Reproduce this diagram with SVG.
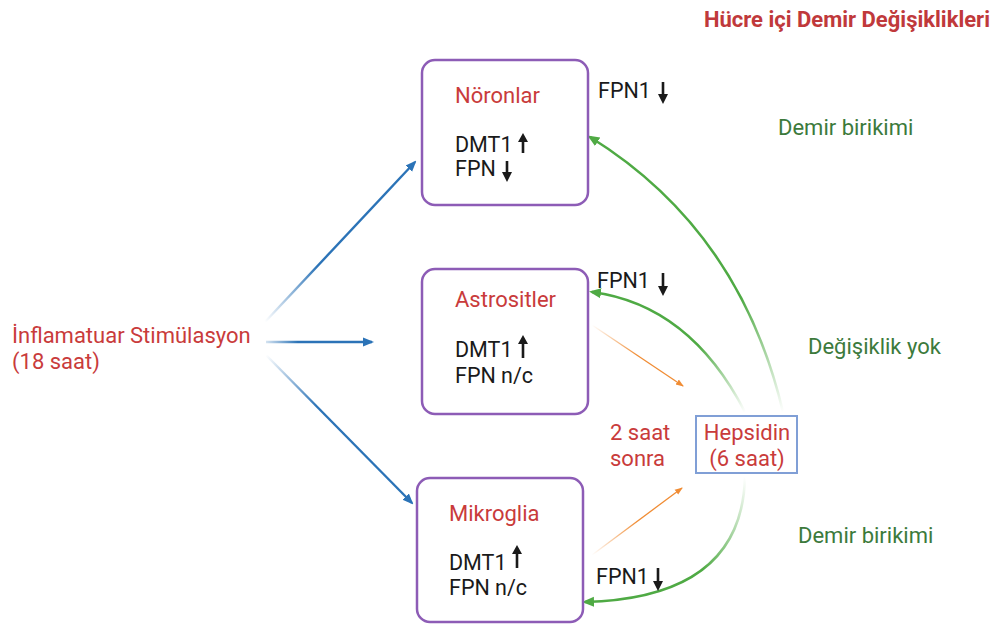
<svg xmlns="http://www.w3.org/2000/svg" width="995" height="624" viewBox="0 0 995 624">
<style>
text{font-family:Roboto,"Liberation Sans",sans-serif;}
.red{fill:#c93b3b;font-size:22px;}
.blk{fill:#1a1a1a;font-size:21.5px;}
.grn{fill:#3c7a3c;font-size:22px;}
.box{fill:#fff;stroke:#8d5cb6;stroke-width:2.5;}
.ar{fill:#1a1a1a;}
</style>
<defs>
<marker id="mb" markerWidth="11" markerHeight="11" refX="9" refY="5.5" orient="auto" markerUnits="userSpaceOnUse"><path d="M0,1 L11,5.5 L0,10 Z" fill="#2b73b7"/></marker>
<marker id="mg" markerWidth="12" markerHeight="12" refX="9" refY="6" orient="auto" markerUnits="userSpaceOnUse"><path d="M0,1 L12,6 L0,11 Z" fill="#4faa44"/></marker>
<marker id="mo" markerWidth="8" markerHeight="8" refX="7" refY="4" orient="auto" markerUnits="userSpaceOnUse"><path d="M0,1 L8,4 L0,7 Z" fill="#f08c34"/></marker>
<linearGradient id="gb1" gradientUnits="userSpaceOnUse" x1="265" y1="322" x2="415" y2="162"><stop offset="0" stop-color="#2b73b7" stop-opacity="0"/><stop offset="0.35" stop-color="#2b73b7"/></linearGradient>
<linearGradient id="gb2" gradientUnits="userSpaceOnUse" x1="266" y1="342" x2="372" y2="342"><stop offset="0" stop-color="#2b73b7" stop-opacity="0.2"/><stop offset="0.3" stop-color="#2b73b7"/></linearGradient>
<linearGradient id="gb3" gradientUnits="userSpaceOnUse" x1="266" y1="355" x2="412" y2="503"><stop offset="0" stop-color="#2b73b7" stop-opacity="0"/><stop offset="0.35" stop-color="#2b73b7"/></linearGradient>
<linearGradient id="gg1" gradientUnits="userSpaceOnUse" x1="783" y1="412" x2="590" y2="137"><stop offset="0" stop-color="#4faa44" stop-opacity="0"/><stop offset="0.35" stop-color="#4faa44"/></linearGradient>
<linearGradient id="gg2" gradientUnits="userSpaceOnUse" x1="745" y1="412" x2="592" y2="292"><stop offset="0" stop-color="#4faa44" stop-opacity="0"/><stop offset="0.4" stop-color="#4faa44"/></linearGradient>
<linearGradient id="gg3" gradientUnits="userSpaceOnUse" x1="745" y1="477" x2="585" y2="602"><stop offset="0" stop-color="#4faa44" stop-opacity="0"/><stop offset="0.45" stop-color="#4faa44"/></linearGradient>
<linearGradient id="go1" gradientUnits="userSpaceOnUse" x1="592" y1="325" x2="683" y2="386"><stop offset="0" stop-color="#f08c34" stop-opacity="0"/><stop offset="0.5" stop-color="#f08c34"/></linearGradient>
<linearGradient id="go2" gradientUnits="userSpaceOnUse" x1="592" y1="555" x2="682" y2="488"><stop offset="0" stop-color="#f08c34" stop-opacity="0"/><stop offset="0.5" stop-color="#f08c34"/></linearGradient>
</defs>
<rect width="995" height="624" fill="#fff"/>

<text x="990" y="27" text-anchor="end" style="font-size:22px;font-weight:bold;fill:#c0393b">Hücre içi Demir Değişiklikleri</text>

<g id="connectors" fill="none">
<path d="M265,322 L415,162" stroke="url(#gb1)" stroke-width="2.4" marker-end="url(#mb)"/>
<path d="M266,342 L372,342" stroke="url(#gb2)" stroke-width="2.4" marker-end="url(#mb)"/>
<path d="M266,355 L412,503" stroke="url(#gb3)" stroke-width="2.4" marker-end="url(#mb)"/>
<path d="M783,412 Q740,230 590,137" stroke="url(#gg1)" stroke-width="2.6" marker-end="url(#mg)"/>
<path d="M745,412 Q690,305 592,292" stroke="url(#gg2)" stroke-width="2.6" marker-end="url(#mg)"/>
<path d="M745,477 Q742,598 585,602" stroke="url(#gg3)" stroke-width="2.6" marker-end="url(#mg)"/>
<path d="M592,325 L683,386" stroke="url(#go1)" stroke-width="1.3" marker-end="url(#mo)"/>
<path d="M592,555 L682,488" stroke="url(#go2)" stroke-width="1.3" marker-end="url(#mo)"/>
</g>

<g id="stimulus">
<text class="red" x="12" y="343">İnflamatuar Stimülasyon</text>
<text class="red" x="12" y="369">(18 saat)</text>
</g>

<g id="noronlar">
<rect class="box" x="422" y="60" width="166" height="145" rx="13"/>
<text class="red" x="455" y="103">Nöronlar</text>
<text class="blk" x="455" y="152">DMT1</text>
<path class="ar" d="M521.7,153 L521.7,142 L518,142 L523,133 L528,142 L524.3,142 L524.3,153 Z"/>
<text class="blk" x="455" y="176">FPN</text>
<path class="ar" d="M505.7,161 L505.7,172 L502,172 L507,182 L512,172 L508.3,172 L508.3,161 Z"/>
</g>
<g id="fpn1-n">
<text class="blk" x="598" y="98">FPN1</text>
<path class="ar" d="M661.7,82 L661.7,94 L658,94 L663,104 L668,94 L664.3,94 L664.3,82 Z"/>
</g>

<g id="astrositler">
<rect class="box" x="422" y="269" width="166" height="145" rx="13"/>
<text class="red" x="455" y="307">Astrositler</text>
<text class="blk" x="455" y="357">DMT1</text>
<path class="ar" d="M521.7,358 L521.7,344 L518,344 L523,335 L528,344 L524.3,344 L524.3,358 Z"/>
<text class="blk" x="455" y="383">FPN n/c</text>
</g>
<g id="fpn1-a">
<text class="blk" x="597" y="288">FPN1</text>
<path class="ar" d="M661.7,273 L661.7,286 L658,286 L663,296 L668,286 L664.3,286 L664.3,273 Z"/>
</g>

<g id="mikroglia">
<rect class="box" x="417" y="478" width="166" height="144" rx="13"/>
<text class="red" x="449" y="521">Mikroglia</text>
<text class="blk" x="449" y="570">DMT1</text>
<path class="ar" d="M515.7,568 L515.7,554 L512,554 L517,545 L522,554 L518.3,554 L518.3,568 Z"/>
<text class="blk" x="449" y="595">FPN n/c</text>
</g>
<g id="fpn1-m">
<text class="blk" x="596" y="584">FPN1</text>
<path class="ar" d="M656.7,568 L656.7,581 L653,581 L658,591 L663,581 L659.3,581 L659.3,568 Z"/>
</g>

<g id="hepsidin">
<rect x="696" y="416" width="101" height="57" fill="#fff" stroke="#809fd6" stroke-width="2"/>
<text class="red" x="747" y="440" text-anchor="middle">Hepsidin</text>
<text class="red" x="747" y="466" text-anchor="middle">(6 saat)</text>
</g>

<g id="sonra">
<text class="red" x="610" y="440">2 saat</text>
<text class="red" x="610" y="466">sonra</text>
</g>

<g id="labels">
<text class="grn" x="778" y="135">Demir birikimi</text>
<text class="grn" x="808" y="354">Değişiklik yok</text>
<text class="grn" x="798" y="543">Demir birikimi</text>
</g>
</svg>
